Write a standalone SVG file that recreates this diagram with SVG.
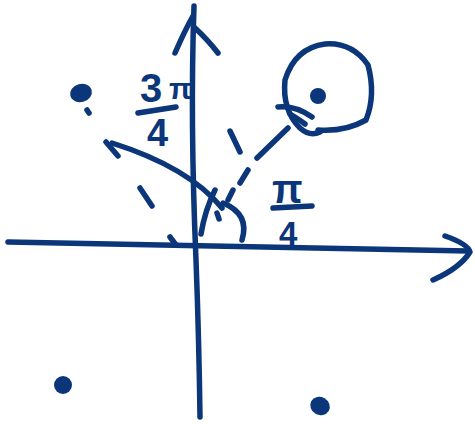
<svg xmlns="http://www.w3.org/2000/svg" width="475" height="424" viewBox="0 0 475 424">
<style>
.s{fill:none;stroke:#0b367a;stroke-width:5.5;stroke-linecap:round;stroke-linejoin:round}
.d{fill:#0b367a}
.t{font-family:"Liberation Sans",Arial,sans-serif;font-weight:bold;fill:#0b367a}
</style>
<rect width="475" height="424" fill="#fff"/>
<g id="axes">
<path class="s" d="M8 242 Q200 245 468 251"/>
<path class="s" d="M445 236 Q468 244 470 252 Q460 268 433 280"/>
<path class="s" d="M194 6 Q190 120 196 260 Q199 340 200 417"/>
<path class="s" d="M175 53 Q185 30 193 16 M194 27 Q208 40 218 53"/>
</g>
<g id="points">
<ellipse class="d" cx="81" cy="93" rx="11" ry="9" transform="rotate(-15 81 93)"/>
<path class="s" d="M87 110 L89 113"/>
<ellipse class="d" cx="63" cy="385" rx="9" ry="9"/>
<ellipse class="d" cx="320" cy="406" rx="10" ry="9" transform="rotate(30 320 406)"/>
<ellipse class="d" cx="318" cy="96" rx="8" ry="8"/>
</g>
<g id="circle">
<path class="s" d="M318 130 Q345 132 366 120 Q376 95 368 65 Q352 42 325 44 Q295 48 285 80 Q282 110 300 128 Q310 137 320 132"/>
<path class="s" d="M278 107 Q295 105 312 117 M290 114 Q300 120 305 124"/>
</g>
<g id="connectors">
<path class="s" d="M106 142 L118 156 M140 188 L152 206 M170 237 L176 245"/>
<path class="s" d="M288 128 L257 158 M248 170 L240 183 M233 190 L228 200"/>
<path class="s" d="M230 131 L240 152"/>
<path class="s" d="M112 143 C150 155 195 175 222 208"/>
<path class="s" d="M215 190 Q205 210 201 234"/>
<path class="s" d="M223 203 Q250 214 242 240"/>
<path class="s" d="M217 213 L219 219"/>
</g>
<g id="label-3pi4">
<text class="t" x="140" y="102" font-size="40">3</text>
<text class="t" x="169" y="99" font-size="30">π</text>
<path class="s" d="M138 113 L176 107"/>
<text class="t" x="147" y="146" font-size="38">4</text>
</g>
<g id="label-pi4">
<text class="t" x="272" y="203" font-size="40">π</text>
<path class="s" d="M273 208 L312 206"/>
<text class="t" x="279" y="245" font-size="33">4</text>
</g>
</svg>
